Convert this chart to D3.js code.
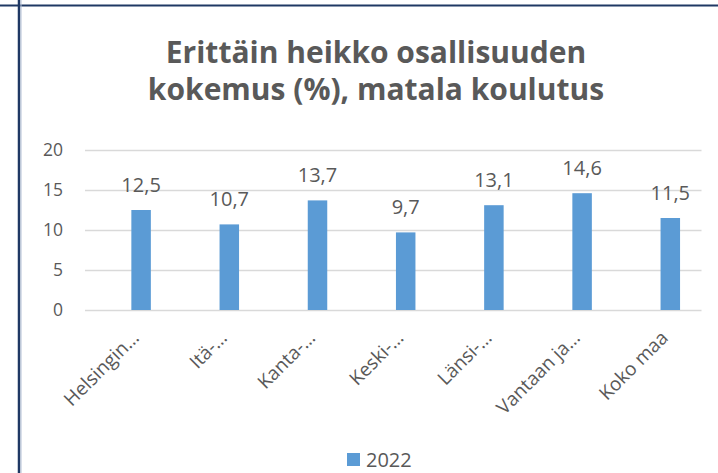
<!DOCTYPE html>
<html>
<head>
<meta charset="utf-8">
<script src="https://cdn.jsdelivr.net/npm/d3@7"></script>
<style>
  body { margin: 0; background: #fff; }
  svg { display: block; font-family: "Open Sans", Lato, sans-serif; }
</style>
</head>
<body>
<script>
const categories = ["Helsingin…", "Itä-…", "Kanta-…", "Keski-…", "Länsi-…", "Vantaan ja…", "Koko maa"];
const values = [12.5, 10.7, 13.7, 9.7, 13.1, 14.6, 11.5];
const yTicks = [0, 5, 10, 15, 20];
const seriesName = "2022";
const titleLines = ["Erittäin heikko osallisuuden", "kokemus (%), matala koulutus"];

const width = 718, height = 473;
const barColor = "#5b9bd5", textColor = "#595959", gridColor = "#d9d9d9";
const font = "'Open Sans', Lato, sans-serif";

const svg = d3.select("body")
    .append("svg")
    .attr("width", width)
    .attr("height", height);

// frame lines (slide border)
svg.append("line")
    .attr("x1", 0).attr("x2", width)
    .attr("y1", 5.5).attr("y2", 5.5)
    .attr("stroke", "#1f3864").attr("stroke-width", 2);
svg.append("line")
    .attr("x1", 19).attr("x2", 19)
    .attr("y1", 0).attr("y2", height)
    .attr("stroke", "#1f3864").attr("stroke-width", 2.5);
svg.append("line")
    .attr("x1", 21).attr("x2", 21)
    .attr("y1", 0).attr("y2", height)
    .attr("stroke", "#b4c0d6").attr("stroke-width", 1);

// title
svg.append("text")
    .attr("x", 376)
    .attr("y", 63)
    .attr("text-anchor", "middle")
    .attr("font-size", 30)
    .attr("font-weight", "bold")
    .attr("fill", textColor)
    .selectAll("tspan")
    .data(titleLines)
    .join("tspan")
    .attr("x", 376)
    .attr("dy", (d, i) => i === 0 ? 0 : 37)
    .text(d => d);

// scales
const x = d3.scaleBand()
    .domain(categories)
    .range([97, 714.4])
    .padding(0);

const y = d3.scaleLinear()
    .domain([0, 20])
    .range([310, 150]);

const barW = 19.5;
const gridLeft = 85, gridRight = 701.5;

// gridlines
svg.append("g")
    .selectAll("line")
    .data(yTicks)
    .join("line")
    .attr("x1", gridLeft)
    .attr("x2", gridRight)
    .attr("y1", d => Math.round(y(d)) + 0.5)
    .attr("y2", d => Math.round(y(d)) + 0.5)
    .attr("stroke", gridColor)
    .attr("stroke-width", 1.5);

// y axis labels
const yAxis = svg.append("g")
    .attr("transform", `translate(${gridLeft - 22},0)`)
    .call(d3.axisLeft(y).tickValues(yTicks).tickSize(0).tickPadding(0));
yAxis.select(".domain").remove();
yAxis.selectAll("text")
    .attr("font-family", font)
    .attr("font-size", 17.5)
    .attr("fill", textColor);

// bars
svg.append("g")
    .selectAll("rect")
    .data(values)
    .join("rect")
    .attr("x", (d, i) => x(categories[i]) + x.bandwidth() / 2 - barW / 2)
    .attr("y", d => y(d))
    .attr("width", barW)
    .attr("height", d => y(0) - y(d))
    .attr("fill", barColor);

// data labels
svg.append("g")
    .selectAll("text")
    .data(values)
    .join("text")
    .attr("x", (d, i) => x(categories[i]) + x.bandwidth() / 2)
    .attr("y", d => y(d) - 18)
    .attr("text-anchor", "middle")
    .attr("font-size", 20)
    .attr("fill", textColor)
    .text(d => d3.format(".1f")(d).replace(".", ","));

// x axis labels
const xAxis = svg.append("g")
    .attr("transform", `translate(0,${y(0)})`)
    .call(d3.axisBottom(x).tickSize(0).tickPadding(0));
xAxis.select(".domain").remove();
xAxis.selectAll("text")
    .attr("font-family", font)
    .attr("font-size", 19)
    .attr("fill", textColor)
    .attr("text-anchor", "end")
    .attr("dy", null)
    .attr("transform", "translate(-1,29) rotate(-45)");

// legend
const legend = svg.append("g").attr("transform", "translate(347,453)");
legend.append("rect")
    .attr("width", 13).attr("height", 13)
    .attr("fill", barColor);
legend.append("text")
    .attr("x", 19).attr("y", 14)
    .attr("font-size", 20)
    .attr("fill", textColor)
    .text(seriesName);
</script>
</body>
</html>
